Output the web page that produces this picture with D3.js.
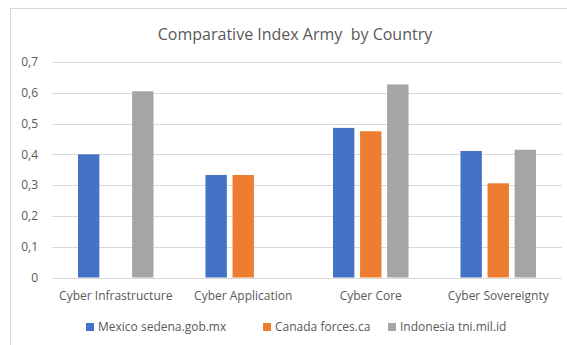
<!DOCTYPE html>
<html>
<head>
<meta charset="utf-8">
<script src="https://cdn.jsdelivr.net/npm/d3@7/dist/d3.min.js"></script>
<style>
  html, body { margin: 0; padding: 0; background: #fff; }
  svg { display: block; font-family: "Open Sans", "Liberation Sans", sans-serif; }
</style>
</head>
<body>
<svg id="chart" width="567" height="345"></svg>
<script>
// Index values per dimension; null means the country has no value there.
const categories = ["Cyber Infrastructure", "Cyber Application", "Cyber Core", "Cyber Sovereignty"];
const seriesNames = ["Mexico sedena.gob.mx", "Canada forces.ca", "Indonesia tni.mil.id"];
const mexico = [0.40, 0.333, 0.486, 0.411];
const canada = [null, 0.333, 0.475, 0.306];
const indonesia = [0.605, null, 0.627, 0.415];
const yTicks = [0, 0.1, 0.2, 0.3, 0.4, 0.5, 0.6, 0.7];
const tickLabels = ["0", "0,1", "0,2", "0,3", "0,4", "0,5", "0,6", "0,7"];
const colors = ["#4472C4", "#ED7D31", "#A5A5A5"];
const title = "Comparative Index Army  by Country";

const series = [mexico, canada, indonesia];
const svg = d3.select("#chart");
const textColor = "#595959";

// Outer chart frame
svg.append("rect")
  .attr("x", 10.5).attr("y", 8.5)
  .attr("width", 570).attr("height", 350)
  .attr("fill", "#fff").attr("stroke", "#D9D9D9");

const plot = { left: 52, right: 562, top: 62, bottom: 277.5 };

const y = d3.scaleLinear().domain([0, 0.7]).range([plot.bottom, plot.top]);
const x0 = d3.scaleBand().domain(categories).range([plot.left, plot.right]).paddingInner(0).paddingOuter(0);
const x1 = d3.scaleBand().domain(d3.range(series.length))
  .range([0, x0.bandwidth()]).paddingInner(0.21).paddingOuter(0.96);

// Gridlines
svg.append("g").selectAll("line").data(yTicks).join("line")
  .attr("x1", plot.left).attr("x2", plot.right)
  .attr("y1", d => Math.round(y(d)) + 0.5).attr("y2", d => Math.round(y(d)) + 0.5)
  .attr("stroke", "#D9D9D9").attr("stroke-width", 1);

// Y tick labels
svg.append("g").selectAll("text").data(yTicks).join("text")
  .attr("x", 38).attr("y", d => y(d)).attr("dy", "0.35em")
  .attr("text-anchor", "end").attr("font-size", 12).attr("fill", textColor)
  .text((d, i) => tickLabels[i]);

// Bars
const groups = svg.append("g").selectAll("g").data(categories).join("g")
  .attr("transform", c => `translate(${x0(c)},0)`);
groups.selectAll("rect")
  .data((c, ci) => series.map((s, si) => ({ si, v: s[ci] })).filter(d => d.v != null))
  .join("rect")
  .attr("x", d => x1(d.si)).attr("width", x1.bandwidth())
  .attr("y", d => y(d.v)).attr("height", d => y(0) - y(d.v))
  .attr("fill", d => colors[d.si]);

// Category labels
svg.append("g").selectAll("text").data(categories).join("text")
  .attr("x", c => x0(c) + x0.bandwidth() / 2).attr("y", 300)
  .attr("text-anchor", "middle").attr("font-size", 12).attr("fill", textColor)
  .text(c => c);

// Title
svg.append("text")
  .attr("x", 295).attr("y", 40).attr("text-anchor", "middle")
  .attr("font-size", 16).attr("fill", textColor).attr("xml:space", "preserve")
  .text(title);

// Legend
const legendX = [86, 263, 388];
const legend = svg.append("g").selectAll("g").data(seriesNames).join("g")
  .attr("transform", (d, i) => `translate(${legendX[i]},327)`);
legend.append("rect").attr("x", 0).attr("y", -4).attr("width", 8).attr("height", 8)
  .attr("fill", (d, i) => colors[i]);
legend.append("text").attr("x", 12).attr("y", 0).attr("dy", "0.35em")
  .attr("font-size", 12).attr("fill", textColor).text(d => d);
</script>
</body>
</html>
